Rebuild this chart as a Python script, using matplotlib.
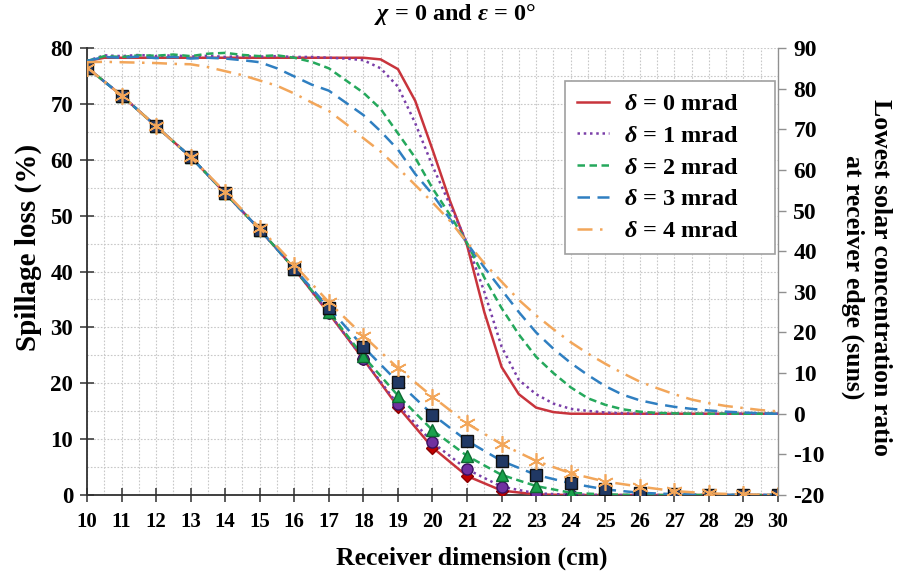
import matplotlib
matplotlib.use("Agg")
import matplotlib.pyplot as plt
from matplotlib.ticker import MultipleLocator

# Receiver dimension (cm)
dims = list(range(10, 31))
dims_fine = [10 + 0.5 * i for i in range(41)]

# Spillage loss (%) at each receiver dimension
spill_d0 = [76.5, 71.5, 66.0, 60.5, 54.0, 47.5, 40.5, 32.5, 24.3, 15.8, 8.5, 3.4, 0.8, 0.1, 0.0, 0.0, 0.0, 0.0, 0.0, 0.0, 0.0]
spill_d1 = [76.5, 71.5, 66.0, 60.5, 54.0, 47.5, 40.5, 32.6, 24.3, 16.2, 9.4, 4.6, 1.5, 0.3, 0.05, 0.0, 0.0, 0.0, 0.0, 0.0, 0.0]
spill_d2 = [76.5, 71.5, 66.0, 60.5, 54.0, 47.5, 40.5, 32.8, 24.8, 17.8, 11.6, 7.0, 3.6, 1.6, 0.4, 0.1, 0.0, 0.0, 0.0, 0.0, 0.0]
spill_d3 = [76.5, 71.5, 66.0, 60.5, 54.0, 47.5, 40.5, 33.5, 26.5, 20.2, 14.4, 9.7, 6.1, 3.6, 2.1, 1.0, 0.4, 0.15, 0.05, 0.0, 0.0]
spill_d4 = [76.5, 71.5, 66.0, 60.5, 54.2, 47.8, 41.2, 34.5, 28.5, 22.7, 17.6, 12.8, 9.1, 6.1, 3.9, 2.4, 1.5, 0.7, 0.3, 0.1, 0.0]

# Lowest solar concentration ratio at the receiver edge (suns)
conc_d0 = [86.8, 87.6, 87.6, 87.6, 87.6, 87.6, 87.6, 87.6, 87.6, 87.6, 87.6, 87.6, 87.6, 87.6, 87.6, 87.6, 87.6,
           87.2, 84.8, 77.0, 65.0, 52.5, 41.5, 25.0, 11.5, 4.8, 1.5, 0.4, 0.0, 0.0, 0.0, 0.0, 0.0, 0.0, 0.0,
           0.0, 0.0, 0.0, 0.0, 0.0, 0.0]
conc_d1 = [86.8, 88.2, 88.0, 88.3, 88.0, 88.2, 87.9, 88.1, 87.8, 88.0, 87.9, 88.0, 87.8, 87.8, 87.6, 87.4, 87.0,
           85.0, 80.5, 71.5, 61.0, 51.5, 42.0, 30.0, 16.5, 8.3, 4.8, 2.5, 1.2, 0.7, 0.3, 0.1, 0.0, 0.0, 0.0,
           0.0, 0.0, 0.0, 0.0, 0.0, 0.0]
conc_d2 = [86.8, 88.0, 87.8, 88.2, 88.1, 88.4, 88.0, 88.6, 88.8, 88.3, 88.0, 88.2, 87.6, 86.6, 85.0, 82.0, 79.0,
           75.0, 69.0, 63.0, 55.5, 49.0, 42.0, 33.5, 26.0, 19.5, 14.0, 10.0, 6.5, 3.8, 2.2, 1.1, 0.5, 0.2, 0.1,
           0.0, 0.0, 0.0, 0.0, 0.0, 0.0]
conc_d3 = [86.8, 87.8, 87.6, 87.9, 87.5, 87.8, 87.4, 87.6, 87.4, 87.0, 86.5, 85.0, 83.0, 81.0, 79.5, 76.5, 73.5,
           69.5, 65.0, 59.0, 54.0, 48.0, 42.0, 36.0, 30.5, 25.0, 20.0, 16.0, 12.5, 9.5, 6.8, 4.7, 3.3, 2.4, 1.7,
           1.2, 0.8, 0.5, 0.3, 0.1, 0.0]
conc_d4 = [86.5, 86.6, 86.5, 86.4, 86.3, 86.1, 86.0, 85.3, 84.3, 83.3, 82.0, 80.7, 78.8, 76.6, 74.5, 71.3, 67.8,
           64.5, 60.5, 56.3, 52.0, 47.5, 42.2, 37.0, 32.5, 28.0, 24.2, 20.8, 17.6, 14.8, 12.3, 10.0, 7.9, 6.3, 4.8,
           3.5, 2.6, 1.9, 1.4, 0.9, 0.6]

labels = [r"$\delta$ = 0 mrad", r"$\delta$ = 1 mrad", r"$\delta$ = 2 mrad",
          r"$\delta$ = 3 mrad", r"$\delta$ = 4 mrad"]

plt.rcParams["font.family"] = ["Liberation Serif", "DejaVu Serif"]
plt.rcParams["font.weight"] = "bold"
plt.rcParams["mathtext.fontset"] = "custom"
plt.rcParams["mathtext.rm"] = "Liberation Serif:bold"
plt.rcParams["mathtext.it"] = "Liberation Serif:italic:bold"
plt.rcParams["mathtext.bf"] = "Liberation Serif:bold"
plt.rcParams["axes.unicode_minus"] = False

line_colors = ["#c8343c", "#7a3fa8", "#25a85c", "#2f7fc1", "#f2a65a"]
line_styles = ["-", (0, (1, 1.5)), (0, (3, 1.8)), (0, (5, 3)), (0, (6, 3, 1, 3))]
marker_styles = [
    dict(marker="D", ms=6, mfc="#c00000", mec="#8b0000"),
    dict(marker="o", ms=8, mfc="#7030a0", mec="#3a1060"),
    dict(marker="^", ms=8, mfc="#1aa04c", mec="#0c6a30"),
    dict(marker="s", ms=8, mfc="#203864", mec="#101010"),
    dict(marker=(6, 2, 0), ms=12, mfc="#f2a65a", mec="#f2a65a", mew=1.2),
]

fig = plt.figure(figsize=(9, 5.77), dpi=100)
ax = fig.add_axes([0.0967, 0.1421, 0.7677, 0.7747])
ax2 = ax.twinx()

spills = [spill_d0, spill_d1, spill_d2, spill_d3, spill_d4]
concs = [conc_d0, conc_d1, conc_d2, conc_d3, conc_d4]

for i in range(5):
    ax.plot(dims, spills[i], color=line_colors[i], linestyle=line_styles[i], lw=1.8,
            zorder=3 + i, **marker_styles[i])

handles = []
for i in range(5):
    h, = ax2.plot(dims_fine, concs[i], color=line_colors[i], linestyle=line_styles[i],
                  lw=1.8, label=labels[i])
    handles.append(h)

ax.set_xlim(10, 30)
ax.set_ylim(0, 80)
ax2.set_ylim(-20, 90)

ax.xaxis.set_major_locator(MultipleLocator(1))
ax.xaxis.set_minor_locator(MultipleLocator(0.5))
ax.yaxis.set_major_locator(MultipleLocator(10))
ax.yaxis.set_minor_locator(MultipleLocator(5))
ax2.yaxis.set_major_locator(MultipleLocator(10))

ax.grid(which="both", color="#c8c8c8", linestyle=(0, (1.5, 1.5)), linewidth=0.8)
ax.set_axisbelow(True)

ax.tick_params(axis="both", which="major", direction="inout", length=10,
               width=1.2, color="#404040")
ax.tick_params(axis="x", which="major", labelsize=15, pad=7)
ax.tick_params(axis="y", which="major", labelsize=16.5, pad=5)
ax.tick_params(axis="both", which="minor", length=0)
ax2.tick_params(axis="y", labelsize=17, direction="out", length=6, width=1.0,
                color="#909090", pad=5)

for lab in ax.get_xticklabels() + ax.get_yticklabels() + ax2.get_yticklabels():
    lab.set_fontweight("bold")

ax.spines["top"].set_visible(False)
ax2.spines["top"].set_visible(False)
ax.spines["left"].set_color("#303030")
ax.spines["left"].set_linewidth(1.3)
ax.spines["bottom"].set_color("#303030")
ax.spines["bottom"].set_linewidth(1.3)
ax2.spines["right"].set_color("#909090")
ax2.spines["left"].set_visible(False)
ax2.spines["bottom"].set_visible(False)

ax.set_xlabel("Receiver dimension (cm)", fontsize=18.5, fontweight="bold")
ax.xaxis.set_label_coords(0.557, -0.141)
ax.xaxis.label.set_va("center")

ax.set_ylabel("Spillage loss (%)", fontsize=21, fontweight="bold")
ax.yaxis.set_label_coords(-0.085, 0.553)
ax.yaxis.label.set_va("center")

ax2.set_ylabel("Lowest solar concentration ratio\nat receiver edge (suns)", fontsize=18.5,
               fontweight="bold", rotation=-90, linespacing=1.25)
ax2.yaxis.set_label_coords(1.128, 0.487)
ax2.yaxis.label.set_va("center")
ax2.yaxis.label.set_ha("center")

ax.set_title(r"$\chi$ = 0 and $\varepsilon$ = 0°", fontsize=17.5, fontweight="bold",
             x=0.533, pad=20)

# pad the legend frame on the right, after the labels
leg = ax2.legend(handles=handles, labels=[s + "     " for s in labels],
                 loc="upper right", bbox_to_anchor=(0.996, 0.926),
                 fontsize=17.5, handlelength=1.3, handletextpad=0.6, labelspacing=0.4,
                 borderpad=0.5, borderaxespad=0.0, fancybox=False, framealpha=1.0,
                 edgecolor="#a0a0a0")
leg.get_frame().set_linewidth(1.2)

fig.savefig("out.png", dpi=100)
